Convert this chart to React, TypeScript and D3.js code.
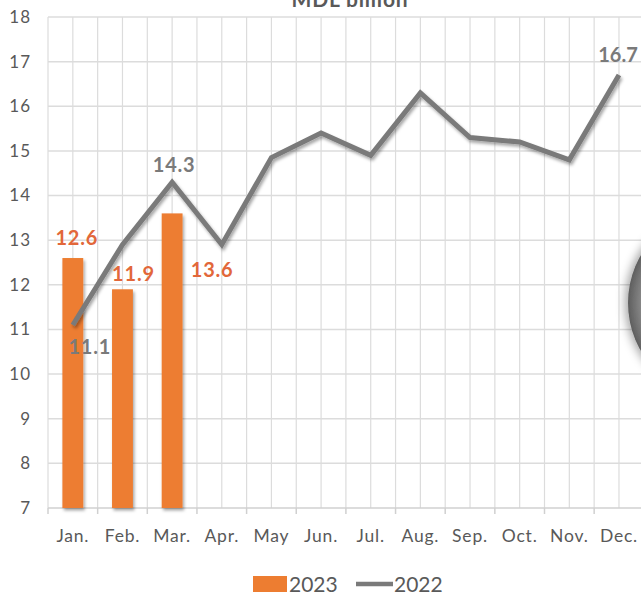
import * as d3 from 'd3';
import { useEffect, useRef } from "react";

const months = ['Jan.', 'Feb.', 'Mar.', 'Apr.', 'May', 'Jun.', 'Jul.', 'Aug.', 'Sep.', 'Oct.', 'Nov.', 'Dec.'];
const values2023 = [12.6, 11.9, 13.6];
const values2022 = [11.1, 12.9, 14.3, 12.9, 14.85, 15.4, 14.9, 16.3, 15.3, 15.2, 14.8, 16.7];
const yTicks = [7, 8, 9, 10, 11, 12, 13, 14, 15, 16, 17, 18];

// which points get a label, and where (offset from the mark)
const labels2023 = [
    { i: 0, dx: 4, dy: -13 },
    { i: 1, dx: 11, dy: -8 },
    { i: 2, dx: 40, dy: 64 },
];
const labels2022 = [
    { i: 0, dx: 17, dy: 29 },
    { i: 2, dx: 2, dy: -10 },
    { i: 11, dx: -1, dy: -13 },
];

const WIDTH = 641;
const HEIGHT = 595;
const PLOT_LEFT = 48;
const PLOT_TOP = 17;
const PLOT_BOTTOM = 508;
const BAND = 49.65;

const FONT = 'Lato, "Open Sans", sans-serif';
const BAR_COLOR = '#ED7D31';
const BAR_LABEL = '#E2673A';
const LINE_COLOR = '#7A7A7A';
const TEXT_COLOR = '#595959';
const GRID = '#DCDCDC';

export default function App() {
    const ref = useRef(null);
    useEffect(() => {
        if (!ref.current) return;
        const svg = d3.select(ref.current);
        svg.selectAll("*").remove();

        const x = d3.scaleBand<string>()
            .domain(months)
            .range([PLOT_LEFT, PLOT_LEFT + months.length * BAND])
            .paddingInner(0.58)
            .paddingOuter(0.29);
        const xc = (m: string) => PLOT_LEFT + months.indexOf(m) * BAND + BAND / 2;
        const y = d3.scaleLinear().domain([7, 18]).range([PLOT_BOTTOM, PLOT_TOP]);

        const defs = svg.append('defs');
        const sh = defs.append('filter').attr('id', 'shadow')
            .attr('x', '-20%').attr('y', '-20%').attr('width', '140%').attr('height', '140%');
        sh.append('feDropShadow').attr('dx', 1.5).attr('dy', 2.5).attr('stdDeviation', 1.8)
            .attr('flood-color', '#000').attr('flood-opacity', 0.35);
        const blob = defs.append('filter').attr('id', 'blob')
            .attr('x', '-50%').attr('y', '-50%').attr('width', '200%').attr('height', '200%');
        blob.append('feDropShadow').attr('dx', -3).attr('dy', 0).attr('stdDeviation', 5)
            .attr('flood-color', '#000').attr('flood-opacity', 0.35);
        const grad = defs.append('radialGradient').attr('id', 'blobFill');
        grad.append('stop').attr('offset', '80%').attr('stop-color', '#9a9a9a');
        grad.append('stop').attr('offset', '100%').attr('stop-color', '#5e5e5e');

        svg.append('rect').attr('width', WIDTH).attr('height', HEIGHT).attr('fill', '#fff');

        // grid: horizontal at each tick, vertical at band edges and centres
        const grid = svg.append('g');
        grid.selectAll('line.h')
            .data(yTicks.slice(1))
            .enter()
            .append('line')
            .attr('x1', PLOT_LEFT).attr('x2', PLOT_LEFT + months.length * BAND)
            .attr('y1', d => y(d)).attr('y2', d => y(d))
            .attr('stroke', GRID).attr('stroke-width', 1.5);
        const vlines = d3.range(0, months.length * 2 + 1).map(k => PLOT_LEFT + k * BAND / 2);
        grid.selectAll('line.v')
            .data(vlines)
            .enter()
            .append('line')
            .attr('x1', d => d).attr('x2', d => d)
            .attr('y1', PLOT_TOP).attr('y2', PLOT_BOTTOM)
            .attr('stroke', GRID).attr('stroke-width', 1.2);

        // x axis
        const xAxis = d3.axisBottom(x).tickSize(0).tickPadding(0);
        const ax = svg.append('g').attr('transform', `translate(0, ${PLOT_BOTTOM})`).call(xAxis);
        ax.select('.domain').remove();
        ax.selectAll('text')
            .attr('y', 34)
            .attr('dy', 0)
            .attr('font-family', FONT)
            .attr('font-size', 17.5)
            .attr('letter-spacing', 0.8)
            .attr('fill', TEXT_COLOR);
        svg.append('line')
            .attr('x1', PLOT_LEFT).attr('x2', PLOT_LEFT + months.length * BAND)
            .attr('y1', PLOT_BOTTOM).attr('y2', PLOT_BOTTOM)
            .attr('stroke', '#D0D0D0').attr('stroke-width', 1.5);
        svg.selectAll('line.xt')
            .data(d3.range(0, months.length + 1))
            .enter()
            .append('line')
            .attr('x1', k => PLOT_LEFT + k * BAND).attr('x2', k => PLOT_LEFT + k * BAND)
            .attr('y1', PLOT_BOTTOM).attr('y2', PLOT_BOTTOM + 6)
            .attr('stroke', '#D0D0D0').attr('stroke-width', 1.5);

        // y axis labels
        const yAxis = d3.axisLeft(y).tickValues(yTicks).tickSize(0).tickPadding(0);
        const ay = svg.append('g').attr('transform', `translate(31, 0)`).call(yAxis);
        ay.select('.domain').remove();
        ay.selectAll('text')
            .attr('font-family', FONT)
            .attr('font-size', 17)
            .attr('letter-spacing', 1)
            .attr('fill', TEXT_COLOR);

        // 2023 bars
        svg.selectAll('rect.bar')
            .data(values2023)
            .enter()
            .append('rect')
            .attr('x', (_, i) => x(months[i])!)
            .attr('width', x.bandwidth())
            .attr('y', d => y(d))
            .attr('height', d => PLOT_BOTTOM - y(d))
            .attr('fill', BAR_COLOR)
            .attr('filter', 'url(#shadow)');

        // 2022 line
        const line = d3.line<number>()
            .x((_, i) => xc(months[i]))
            .y(d => y(d));
        svg.append('path')
            .datum(values2022)
            .attr('d', line)
            .attr('fill', 'none')
            .attr('stroke', LINE_COLOR)
            .attr('stroke-width', 5)
            .attr('stroke-linejoin', 'miter')
            .attr('filter', 'url(#shadow)');

        // data labels
        svg.selectAll('text.l23')
            .data(labels2023)
            .enter()
            .append('text')
            .attr('x', d => xc(months[d.i]) + d.dx)
            .attr('y', d => y(values2023[d.i]) + d.dy)
            .attr('text-anchor', 'middle')
            .attr('font-family', FONT)
            .attr('font-weight', 'bold')
            .attr('font-size', 20)
            .attr('letter-spacing', 0.8)
            .attr('fill', BAR_LABEL)
            .text(d => values2023[d.i].toFixed(1));
        svg.selectAll('text.l22')
            .data(labels2022)
            .enter()
            .append('text')
            .attr('x', d => xc(months[d.i]) + d.dx)
            .attr('y', d => y(values2022[d.i]) + d.dy)
            .attr('text-anchor', 'middle')
            .attr('font-family', FONT)
            .attr('font-weight', 'bold')
            .attr('font-size', 20)
            .attr('letter-spacing', d => d.i === 11 ? 0 : 0.8)
            .attr('fill', LINE_COLOR)
            .text(d => values2022[d.i].toFixed(1));

        // title, cut off at the top as in the source
        svg.append('text')
            .attr('x', 350).attr('y', 7)
            .attr('text-anchor', 'middle')
            .attr('font-family', FONT)
            .attr('font-weight', 'bold')
            .attr('font-size', 21)
            .attr('letter-spacing', 0.8)
            .attr('fill', TEXT_COLOR)
            .text('MDL billion');

        // round overlay on the right edge
        svg.append('circle')
            .attr('cx', 724).attr('cy', 303).attr('r', 96)
            .attr('fill', 'url(#blobFill)')
            .attr('filter', 'url(#blob)');

        // legend
        const lg = svg.append('g');
        lg.append('rect')
            .attr('x', 253).attr('y', 576).attr('width', 34).attr('height', 16)
            .attr('fill', BAR_COLOR);
        lg.append('text')
            .attr('x', 289).attr('y', 592)
            .attr('font-family', FONT).attr('font-size', 21).attr('fill', TEXT_COLOR)
            .text('2023');
        lg.append('line')
            .attr('x1', 356).attr('x2', 393).attr('y1', 584).attr('y2', 584)
            .attr('stroke', LINE_COLOR).attr('stroke-width', 4.5);
        lg.append('text')
            .attr('x', 394).attr('y', 592)
            .attr('font-family', FONT).attr('font-size', 21).attr('fill', TEXT_COLOR)
            .text('2022');
    }, []);

    return (
        <svg ref={ref} width={WIDTH} height={HEIGHT}
            style={{ position: 'absolute', left: 0, top: 0, display: 'block' }}></svg>
    );
}
